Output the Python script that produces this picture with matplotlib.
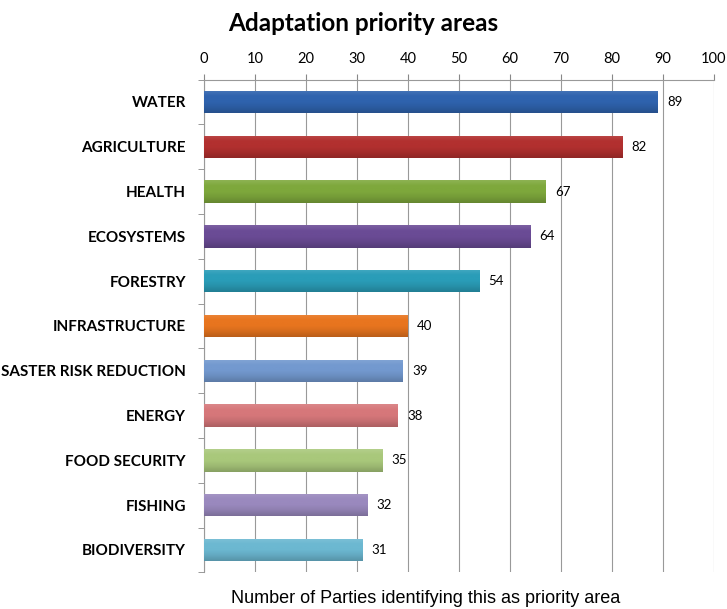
import numpy as np
import matplotlib.pyplot as plt
from matplotlib.colors import LinearSegmentedColormap, to_rgb

categories = ["WATER", "AGRICULTURE", "HEALTH", "ECOSYSTEMS", "FORESTRY",
              "INFRASTRUCTURE", "DISASTER RISK REDUCTION", "ENERGY",
              "FOOD SECURITY", "FISHING", "BIODIVERSITY"]
values = [89, 82, 67, 64, 54, 40, 39, 38, 35, 32, 31]
colors = ["#2F63AE", "#B2302F", "#7EA83C", "#6A4B95", "#2A9DB8", "#E8751F",
          "#7399CF", "#D6777A", "#A9C87B", "#9A89BE", "#6CB8D1"]
xticks = list(range(0, 101, 10))

fig = plt.figure(figsize=(7.27, 6.09), dpi=100)
ax = fig.add_axes([0.2806, 0.0601, 0.7015, 0.8092])

y = np.arange(len(categories))
bars = ax.barh(y, values, height=0.5, color=colors, zorder=3)

# soft shading: lighter top, darker bottom edge
grad = np.linspace(0, 1, 64).reshape(-1, 1)
for bar, c in zip(bars, colors):
    rgb = np.array(to_rgb(c))
    light = np.clip(rgb + (1 - rgb) * 0.12, 0, 1)
    dark = rgb * 0.8
    cmap = LinearSegmentedColormap.from_list("g", [light, rgb, rgb, rgb * 0.92, dark])
    x0, y0 = bar.get_x(), bar.get_y()
    w, h = bar.get_width(), bar.get_height()
    im = ax.imshow(grad, cmap=cmap, aspect="auto", extent=[x0, x0 + w, y0 + h, y0],
                   zorder=4, interpolation="bicubic")
    im.set_clip_path(bar)
    ax.text(w + 1.8, bar.get_y() + h / 2, str(w), va="center", ha="left",
            fontsize=9.5, family="Lato", zorder=5)

ax.set_xlim(0, 100)
ax.set_ylim(len(categories) - 0.5, -0.5)
ax.xaxis.tick_top()
ax.set_xticks(xticks)
ax.set_xticklabels([str(t) for t in xticks], fontsize=10.5, family="Lato")
ax.tick_params(axis="x", length=4, color="#888888", pad=6)
ax.set_yticks(y)
ax.set_yticklabels(categories, fontsize=11, fontweight="bold", family="Lato")
ax.set_yticks(np.arange(-0.5, len(categories)), minor=True)
ax.tick_params(axis="y", which="major", length=0, pad=13)
ax.tick_params(axis="y", which="minor", length=4, color="#888888")
ax.xaxis.grid(True, color="#999999", linewidth=0.8, zorder=0)
ax.set_axisbelow(True)
for s in ["right", "bottom"]:
    ax.spines[s].set_visible(False)
for s in ["top", "left"]:
    ax.spines[s].set_color("#999999")
    ax.spines[s].set_linewidth(0.8)

fig.text(0.5, 0.962, "Adaptation priority areas", ha="center", va="center",
         fontsize=17.5, fontweight="bold", family="Lato")
fig.text(0.585, 0.018, "Number of Parties identifying this as priority area",
         ha="center", va="center", fontsize=13, family="Liberation Sans")

fig.savefig("out.png", dpi=100)
